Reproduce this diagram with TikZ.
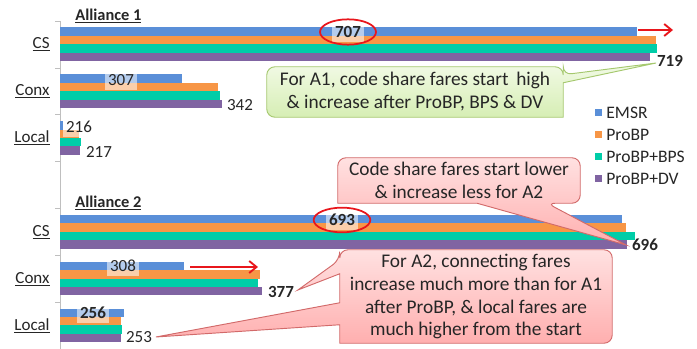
\documentclass[tikz,border=0pt]{standalone}
\usepackage{fontspec}
\setmainfont{Carlito}
\usetikzlibrary{arrows.meta,calc,positioning}
\definecolor{ink}{HTML}{262626}
\definecolor{emsr}{HTML}{5A8FD8}
\definecolor{probp}{HTML}{F79646}
\definecolor{bps}{HTML}{00CDA8}
\definecolor{dv}{HTML}{8064A2}
\definecolor{axisgray}{HTML}{BFBFBF}
\definecolor{hilite}{HTML}{E8161C}
\definecolor{greenTop}{HTML}{F2FAE6}
\definecolor{greenBot}{HTML}{D6EEB4}
\definecolor{greenLine}{HTML}{A5C86E}
\definecolor{pinkTop}{HTML}{FFE1E1}
\definecolor{pinkBot}{HTML}{FFAFAF}
\definecolor{pinkLine}{HTML}{D26A6A}
\pgfdeclarelayer{chart}
\pgfdeclarelayer{callout}
\pgfsetlayers{chart,callout,main}
\newcommand\valfont{\fontsize{14.5}{16}\selectfont}
\newcommand\notefont{\fontsize{16.5}{19.6}\selectfont}
\tikzset{
  axisline/.style={draw=axisgray,line width=0.6pt},
  catlab/.style={anchor=east,font=\fontsize{14.5}{16}\selectfont,text=ink,inner sep=1pt},
  grouptitle/.style={anchor=west,font=\fontsize{14}{16}\selectfont\bfseries,text=ink,inner sep=1pt},
  vallab/.style={font=\valfont,text=ink,inner sep=1.5pt},
  valbold/.style={vallab,font=\valfont\bfseries},
  valbox/.style={vallab,fill=white,fill opacity=0.55,text opacity=1,inner sep=2.5pt,minimum height=0.58cm},
  leglab/.style={anchor=west,font=\fontsize{15}{17}\selectfont,text=ink,inner sep=1pt},
  notetext/.style={align=center,font=\notefont,text=ink,inner sep=0pt},
  greennote/.style={draw=greenLine,line width=0.8pt,top color=greenTop,bottom color=greenBot},
  pinknote/.style={draw=pinkLine,line width=0.8pt,top color=pinkTop,bottom color=pinkBot},
  ring/.style={draw=hilite,line width=1.5pt},
  redarrow/.style={-{Straight Barb[length=2.2mm,width=3.6mm]},line width=1.6pt,draw=hilite}
}

\begin{document}
\begin{tikzpicture}[x=0.03cm,y=-0.03cm]
  \useasboundingbox (0,0) rectangle (697,349);
  \def\base{60}
  \def\gap{46.86}
  \def\bh{8.4}

  % bars and axis
  \begin{pgfonlayer}{chart}
    \draw[axisline] (\base,21) -- (\base,349);
    \foreach \k in {0,...,7}
      \draw[axisline] (\base-5,21+\gap*\k) -- (\base,21+\gap*\k);
    \foreach \k/\a/\b/\c/\d in {0/637/656/657/650,1/182/218/220/222,2/63/79/81/80,
                                4/622/626/635/627,5/184/260/258/262,6/124/121/122/121} {
      \pgfmathsetmacro\t{27.5+\gap*\k}
      \fill[emsr]  (\base,\t)       rectangle (\a,\t+\bh);
      \fill[probp] (\base,\t+\bh)   rectangle (\b,\t+2*\bh);
      \fill[bps]   (\base,\t+2*\bh) rectangle (\c,\t+3*\bh);
      \fill[dv]    (\base,\t+3*\bh) rectangle (\d,\t+4*\bh);
    }
  \end{pgfonlayer}

  \foreach \k/\name in {0/CS,1/Conx,2/Local,4/CS,5/Conx,6/Local}
    \node[catlab] (cat\k) at (51,44.5+\gap*\k) {\underline{\name}};
  \node[grouptitle] (titleA1) at (74,16) {\underline{Alliance 1}};
  \node[grouptitle] (titleA2) at (74,203) {\underline{Alliance 2}};

  % data labels
  \node[valbox,font=\valfont\bfseries] (v707) at (348,32) {707};
  \node[valbox] (v307) at (121,80) {307};
  \node[valbox] (v216) at (79,127) {216};
  \node[valbold] (v719) at (670,61) {719};
  \node[vallab] (v342) at (240,105) {342};
  \node[vallab] (v217) at (99,152) {217};
  \node[valbox,font=\valfont\bfseries] (v693) at (342,220) {693};
  \node[valbox] (v308) at (123,266) {308};
  \node[valbox,font=\valfont\bfseries] (v256) at (93,313) {256};
  \node[valbold] (v696) at (645,245) {696};
  \node[valbold] (v377) at (281,292) {377};
  \node[vallab] (v253) at (139,337) {253};

  \draw[ring] (v707) ellipse [x radius=0.84cm,y radius=0.38cm];
  \draw[ring] (v693) ellipse [x radius=0.85cm,y radius=0.37cm];

  \coordinate (csFrom) at (638,30);
  \coordinate (csTo) at (673,30);
  \draw[redarrow] (csFrom) -- (csTo);
  \coordinate (conxFrom) at (190,267);
  \coordinate (conxTo) at (258,267);
  \draw[redarrow] (conxFrom) -- (conxTo);

  % legend
  \foreach \col/\txt [count=\i from 0] in {emsr/EMSR,probp/ProBP,bps/ProBP+BPS,dv/ProBP+DV} {
    \fill[\col] (595,109.5+22*\i) rectangle ++(7,7);
    \node[leglab] (leg\i) at (605,113+22*\i) {\txt};
  }

  % callouts
  \node[notetext,minimum width=8.88cm,minimum height=1.5cm] (noteA1) at (415,92)
    {For A1, code share fares start\,\ high\\\& increase after ProBP, BPS \& DV};
  \node[notetext,minimum width=7.26cm,minimum height=1.35cm] (noteA2) at (459,180.5)
    {Code share fares start lower\\\& increase less for A2};
  \node[notetext,minimum width=8.16cm,minimum height=2.79cm] (noteConx) at (476,296.5)
    {For A2, connecting fares\\increase much more than for A1\\after ProBP, \& local fares are\\much higher from the start};

  \begin{pgfonlayer}{callout}
    \path[greennote] (noteA1.north) [rounded corners=7] -- (noteA1.north east)
      -- ($(noteA1.north east)+(0,8)$) [sharp corners] -- ([shift={(1,2)}]v719.west)
      -- ($(noteA1.north east)+(0,16)$) -- (noteA1.south east) [rounded corners=7]
      -- (noteA1.south west) -- (noteA1.north west) -- cycle;
    \path[pinknote] (noteA2.north) [rounded corners=7] -- (noteA2.north east)
      -- (noteA2.south east) -- ($(noteA2.south)+(88,0)$) [sharp corners]
      -- ([shift={(-4,0)}]v696.west) -- ($(noteA2.south)+(18,0)$)
      -- (noteA2.south west) [rounded corners=7] -- (noteA2.north west) -- cycle;
    \path[pinknote] (noteConx.north) [rounded corners=7] -- (noteConx.north west)
      -- ($(noteConx.north west)+(0,10)$) [sharp corners] -- ([shift={(2,-2)}]v377.east)
      -- ($(noteConx.north west)+(0,24)$) -- ($(noteConx.north west)+(0,53)$)
      -- ([shift={(2,0)}]v253.east) -- ($(noteConx.north west)+(0,75)$)
      -- (noteConx.south west) [rounded corners=7] -- (noteConx.south east)
      -- (noteConx.north east) -- cycle;
  \end{pgfonlayer}
\end{tikzpicture}
\end{document}
